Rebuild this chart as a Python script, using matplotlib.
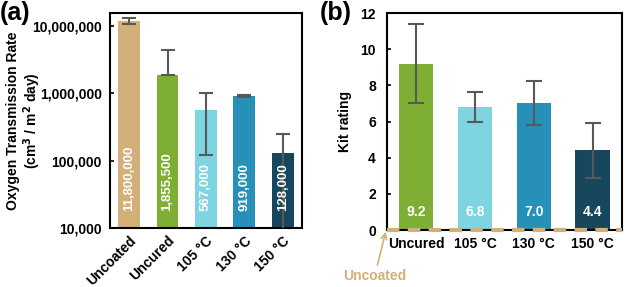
import matplotlib
matplotlib.use('Agg')
import numpy as np
import matplotlib.pyplot as plt
from matplotlib.ticker import FixedLocator, FuncFormatter, NullLocator

plt.rcParams['font.family'] = ['Liberation Sans', 'DejaVu Sans']
plt.rcParams['font.weight'] = 'bold'

# 数据 (a) 氧气透过率
otr_labels = ['Uncoated', 'Uncured', '105 °C', '130 °C', '150 °C']
otr_values = [11800000, 1855500, 567000, 919000, 128000]
otr_err_low = [1100000, 0, 445000, 30000, 123000]
otr_err_high = [1100000, 2480000, 450000, 30000, 123000]
otr_text = ['11,800,000', '1,855,500', '567,000', '919,000', '128,000']

# 数据 (b) Kit rating
kit_labels = ['Uncured', '105 °C', '130 °C', '150 °C']
kit_values = [9.2, 6.8, 7.0, 4.4]
kit_err = [2.17, 0.85, 1.22, 1.53]

colors = ['#D3B07A', '#7EAF34', '#7ED4E0', '#2690B8', '#17475C']
tan = '#D3B07A'
err_color = '#595959'

fig = plt.figure(figsize=(6.25, 2.87), dpi=100)

# 左图
ax1 = fig.add_axes([0.176, 0.2056, 0.307, 0.749])
x1 = np.arange(len(otr_values))
ax1.bar(x1, otr_values, width=0.57, color=colors, zorder=2)
ax1.errorbar(x1, otr_values, yerr=[otr_err_low, otr_err_high], fmt='none',
             ecolor=err_color, elinewidth=1.5, capsize=5, capthick=1.5, zorder=3)
ax1.set_yscale('log')
ax1.set_ylim(1e4, 1.55e7)
ax1.set_xlim(-0.5, 4.5)
ax1.yaxis.set_major_locator(FixedLocator([1e4, 1e5, 1e6, 1e7]))
ax1.yaxis.set_minor_locator(NullLocator())
ax1.yaxis.set_major_formatter(FuncFormatter(lambda v, p: f'{int(v):,}'))
ax1.set_xticks(x1)
ax1.set_xticklabels(otr_labels, rotation=45, ha='right', rotation_mode='anchor')
ax1.tick_params(axis='y', direction='in', length=3, width=1.2, labelsize=10, pad=6)
ax1.tick_params(axis='x', length=0, labelsize=10, pad=4)
for i, t in enumerate(otr_text):
    ax1.text(x1[i], 1.8e4, t, rotation=90, ha='center', va='bottom',
             color='white', fontsize=9.5, fontweight='bold', zorder=4)
ax1.set_ylabel('Oxygen Transmission Rate\n(cm$^3$ / m$^2$ day)', fontsize=10,
               fontweight='bold', linespacing=1.1)
ax1.yaxis.set_label_coords(-0.35, 0.5)
for s in ax1.spines.values():
    s.set_linewidth(1.5)

# 右图
ax2 = fig.add_axes([0.619, 0.1986, 0.376, 0.756])
x2 = np.arange(len(kit_values))
ax2.bar(x2, kit_values, width=0.58, color=colors[1:], zorder=2)
ax2.errorbar(x2, kit_values, yerr=kit_err, fmt='none', ecolor=err_color,
             elinewidth=1.5, capsize=5.5, capthick=1.5, zorder=3)
ax2.set_ylim(0, 12)
ax2.set_xlim(-0.5, 3.5)
ax2.set_yticks(np.arange(0, 13, 2))
ax2.set_xticks(x2)
ax2.set_xticklabels(kit_labels)
ax2.tick_params(axis='y', direction='in', length=3, width=1.2, labelsize=10, pad=8)
ax2.tick_params(axis='x', length=0, labelsize=10, pad=5)
for i, v in enumerate(kit_values):
    ax2.text(x2[i], 1.0, f'{v:.1f}', ha='center', va='center', color='white',
             fontsize=10, fontweight='bold', zorder=4)
ax2.set_ylabel('Kit rating', fontsize=10, fontweight='bold', labelpad=6)
for s in ax2.spines.values():
    s.set_linewidth(1.5)
ax2.axhline(0, color=tan, lw=3, ls=(0, (3, 2)), clip_on=False, zorder=5)
ax2.annotate('Uncoated', xy=(-0.52, -0.1), xytext=(-8, -32), textcoords='offset points',
             ha='center', va='center', color=tan, fontsize=10, fontweight='bold',
             annotation_clip=False,
             arrowprops=dict(arrowstyle='->', color=tan, lw=1.2, shrinkA=1, shrinkB=0))

fig.text(0.0, 0.995, '(a)', ha='left', va='top', fontsize=18, fontweight='bold')
fig.text(0.512, 0.995, '(b)', ha='left', va='top', fontsize=18, fontweight='bold')

plt.savefig('out.png', dpi=100)
plt.close()
